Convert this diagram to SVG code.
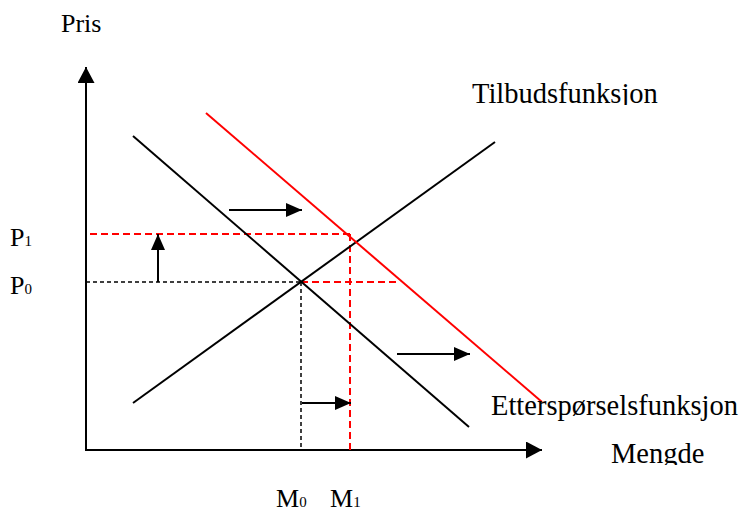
<svg xmlns="http://www.w3.org/2000/svg" width="746" height="516" viewBox="0 0 746 516">
<style>
.t{font-family:'Liberation Serif',serif;font-size:26px;fill:#000}
.L{font-size:28.5px}
.s{font-size:15px}
.k{stroke:#000;stroke-width:2;fill:none}
.r{stroke:#ff0000;stroke-width:2;fill:none}
.kd{stroke:#000;stroke-width:1.5;fill:none;stroke-dasharray:4 3}
.rd{stroke:#ff0000;stroke-width:2;fill:none;stroke-dasharray:7 4}
</style>
<defs>
<marker id="ah" viewBox="0 0 16 14" refX="16" refY="7" markerWidth="16" markerHeight="14" markerUnits="userSpaceOnUse" orient="auto">
<path d="M0,0 L16,7 L0,14 Z" fill="#000"/>
</marker>
<marker id="ax" viewBox="0 0 16 17" refX="16" refY="8.5" markerWidth="16" markerHeight="17" markerUnits="userSpaceOnUse" orient="auto">
<path d="M0,0 L16,8.5 L0,17 Z" fill="#000"/>
</marker>
<clipPath id="c1"><rect x="460" y="60" width="286" height="45"/></clipPath>
<clipPath id="c2"><rect x="480" y="380" width="266" height="42"/></clipPath>
<clipPath id="c3"><rect x="590" y="430" width="156" height="35"/></clipPath>
</defs>
<g id="axes">
<line class="k" x1="86" y1="451" x2="86" y2="67" marker-end="url(#ax)"/>
<line class="k" x1="86" y1="450" x2="542" y2="450" marker-end="url(#ax)"/>
</g>
<g id="connectors">
<line class="kd" x1="86" y1="282" x2="301" y2="282"/>
<line class="kd" x1="301" y1="282" x2="301" y2="450"/>
<line class="rd" x1="90" y1="234" x2="352" y2="234"/>
<line class="rd" x1="350" y1="234" x2="350" y2="450"/>
<line class="rd" x1="301" y1="282" x2="400" y2="282"/>
<line class="k" x1="158" y1="282" x2="158" y2="234" marker-end="url(#ah)"/>
<line class="k" x1="229" y1="210" x2="302" y2="210" marker-end="url(#ah)"/>
<line class="k" x1="397" y1="354" x2="470" y2="354" marker-end="url(#ah)"/>
<line class="k" x1="302" y1="403" x2="351" y2="403" marker-end="url(#ah)"/>
</g>
<g id="supply"><line class="k" x1="133" y1="403" x2="495" y2="142"/></g>
<g id="demand"><line class="k" x1="133" y1="136" x2="469" y2="427"/></g>
<g id="demand-new"><line class="r" x1="206" y1="113" x2="542" y2="402"/></g>
<g id="labels" font-family="Liberation Serif, serif">
<text class="t" x="61" y="32">Pris</text>
<text class="t L" x="472" y="103" clip-path="url(#c1)">Tilbudsfunksjon</text>
<text class="t L" x="491" y="415" clip-path="url(#c2)">Etterspørselsfunksjon</text>
<text class="t L" x="611" y="463" clip-path="url(#c3)">Mengde</text>
<text class="t" x="10" y="246">P<tspan class="s">1</tspan></text>
<text class="t" x="10" y="294">P<tspan class="s">0</tspan></text>
<text class="t" x="276" y="507">M<tspan class="s">0</tspan></text>
<text class="t" x="330" y="507">M<tspan class="s">1</tspan></text>
</g>
</svg>
